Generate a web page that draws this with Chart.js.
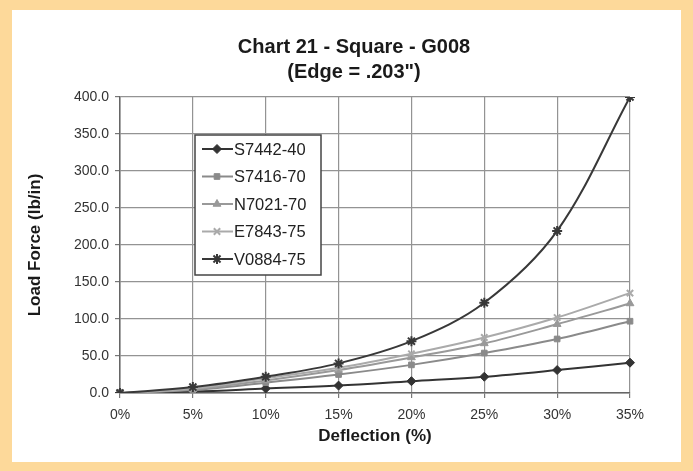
<!DOCTYPE html>
<html>
<head>
<meta charset="utf-8">
<script src="https://cdn.jsdelivr.net/npm/chart.js@4.4.1/dist/chart.umd.min.js"></script>
<style>
  html, body { margin: 0; padding: 0; background: #fdd99a; }
  #wrap { position: absolute; left: 0; top: 0; width: 693px; height: 471px; }
</style>
</head>
<body>
<div id="wrap"><canvas id="chart" width="693" height="471"></canvas></div>
<script>
const deflection = ["0%", "5%", "10%", "15%", "20%", "25%", "30%", "35%"];
const seriesNames = ["S7442-40", "S7416-70", "N7021-70", "E7843-75", "V0884-75"];
const s7442 = [0, 2, 6, 10, 16, 22, 31, 41];
const s7416 = [0, 4, 14, 25, 38, 54, 73, 97];
const n7021 = [0, 5, 17, 31, 48, 67, 93, 121];
const e7843 = [0, 6, 20, 34, 53, 75, 102, 135];
const v0884 = [0, 8, 22, 40, 70, 122, 219, 400];
const yTicks = [0, 50, 100, 150, 200, 250, 300, 350, 400];

const colors = ["#333333", "#8a8a8a", "#999999", "#aaaaaa", "#383838"];
const markers = ["rectRot", "rect", "triangle", "crossRot", "star"];
const markerSize = [4.5, 4, 4.5, 4.5, 5];

const font = "'Liberation Sans', Arial, sans-serif";

const datasets = [s7442, s7416, n7021, e7843, v0884].map((vals, i) => ({
  label: seriesNames[i],
  data: vals,
  borderColor: colors[i],
  backgroundColor: colors[i],
  borderWidth: 2,
  pointStyle: markers[i],
  pointRadius: markerSize[i],
  pointBorderWidth: (markers[i] === "crossRot" || markers[i] === "star") ? 2 : 1,
  tension: 0.35,
}));
// draw dark series on top like the original
datasets.reverse();

// orange frame and white panel
const panel = {
  id: "panel",
  beforeDraw(chart) {
    const { ctx } = chart;
    ctx.save();
    ctx.fillStyle = "#fdd99a";
    ctx.fillRect(0, 0, chart.width, chart.height);
    ctx.fillStyle = "#ffffff";
    ctx.fillRect(12, 10, 669, 452);
    ctx.restore();
  },
};

// two-line title over the plot
const heading = {
  id: "heading",
  afterDraw(chart) {
    const { ctx } = chart;
    ctx.save();
    ctx.fillStyle = "#1a1a1a";
    ctx.font = "bold 20px " + font;
    ctx.textAlign = "center";
    ctx.textBaseline = "middle";
    ctx.fillText("Chart 21 - Square - G008", 354, 47);
    ctx.fillText("(Edge = .203\")", 354, 72);
    ctx.restore();
  },
};

// boxed legend inside the plot area
const boxLegend = {
  id: "boxLegend",
  afterDraw(chart) {
    const { ctx } = chart;
    const left = 195, top = 135, w = 126, h = 140;
    ctx.save();
    ctx.fillStyle = "#ffffff";
    ctx.fillRect(left, top, w, h);
    ctx.strokeStyle = "#444444";
    ctx.lineWidth = 1.5;
    ctx.strokeRect(left, top, w, h);
    seriesNames.forEach((name, i) => {
      const y = 149 + i * 27.5;
      ctx.strokeStyle = colors[i];
      ctx.lineWidth = 2;
      ctx.beginPath();
      ctx.moveTo(202, y);
      ctx.lineTo(233, y);
      ctx.stroke();
      ctx.fillStyle = colors[i];
      ctx.lineWidth = (markers[i] === "crossRot" || markers[i] === "star") ? 2 : 1;
      Chart.helpers.drawPoint(ctx, {
        pointStyle: markers[i],
        radius: markerSize[i],
        rotation: 0,
        borderWidth: ctx.lineWidth,
      }, 217, y);
      ctx.fillStyle = "#222222";
      ctx.font = "16.5px " + font;
      ctx.textAlign = "left";
      ctx.textBaseline = "middle";
      ctx.fillText(name, 234, y + 1);
    });
    ctx.restore();
  },
};

new Chart(document.getElementById("chart"), {
  type: "line",
  data: { labels: deflection, datasets },
  options: {
    responsive: false,
    animation: false,
    layout: { padding: { top: 97, left: 0, right: 63, bottom: 0 } },
    plugins: {
      legend: { display: false },
      title: { display: false },
      tooltip: { enabled: false },
    },
    scales: {
      x: {
        offset: false,
        grid: { color: "#939393", lineWidth: 1.2, tickLength: 5, tickColor: "#777777" },
        border: { color: "#666666", width: 1.5 },
        ticks: { color: "#333333", font: { family: font, size: 14 }, padding: 9, maxRotation: 0 },
        title: {
          display: true,
          text: "Deflection (%)",
          color: "#1a1a1a",
          font: { family: font, size: 17, weight: "bold" },
          padding: { top: 0, bottom: 24 },
        },
        afterFit(scale) { scale.height = 78; },
      },
      y: {
        min: 0,
        max: 400,
        afterBuildTicks(scale) { scale.ticks = yTicks.map(v => ({ value: v })); },
        grid: { color: "#939393", lineWidth: 1.2, tickLength: 5, tickColor: "#777777" },
        border: { color: "#666666", width: 1.5 },
        ticks: {
          color: "#333333",
          font: { family: font, size: 14 },
          padding: 6,
          callback: v => Number(v).toFixed(1),
        },
        title: {
          display: true,
          text: "Load Force (lb/in)",
          color: "#1a1a1a",
          font: { family: font, size: 17, weight: "bold" },
          padding: { top: 25, bottom: 0 },
        },
        afterFit(scale) { scale.width = 120; },
      },
    },
  },
  plugins: [panel, heading, boxLegend],
});
</script>
</body>
</html>
